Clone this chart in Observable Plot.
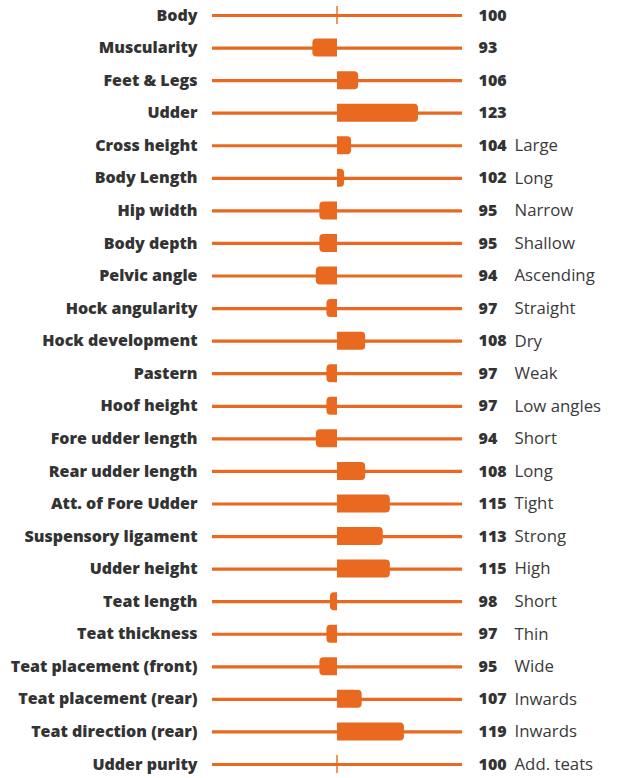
<!DOCTYPE html>
<html>
<head>
<meta charset="utf-8">
<script src="https://cdn.jsdelivr.net/npm/d3@7"></script>
<script src="https://cdn.jsdelivr.net/npm/@observablehq/plot@0.6"></script>
<style>
  html, body { margin: 0; padding: 0; background: #fff; }
  #chart svg { display: block; }
</style>
</head>
<body>
<div id="chart"></div>
<script>
const traits = ["Body", "Muscularity", "Feet & Legs", "Udder", "Cross height", "Body Length", "Hip width", "Body depth", "Pelvic angle", "Hock angularity", "Hock development", "Pastern", "Hoof height", "Fore udder length", "Rear udder length", "Att. of Fore Udder", "Suspensory ligament", "Udder height", "Teat length", "Teat thickness", "Teat placement (front)", "Teat placement (rear)", "Teat direction (rear)", "Udder purity"];
const values = [100, 93, 106, 123, 104, 102, 95, 95, 94, 97, 108, 97, 97, 94, 108, 115, 113, 115, 98, 97, 95, 107, 119, 100];
const descriptors = ["", "", "", "", "Large", "Long", "Narrow", "Shallow", "Ascending", "Straight", "Dry", "Weak", "Low angles", "Short", "Long", "Tight", "Strong", "High", "Short", "Thin", "Wide", "Inwards", "Inwards", "Add. teats"];
const baseline = 100;
const scaleMin = 64.5, scaleMax = 135.5;

const data = traits.map((t, i) => ({trait: t, value: values[i], desc: descriptors[i]}));
const above = data.filter(d => d.value > baseline);
const below = data.filter(d => d.value < baseline);
const orange = "#E8691F";
const ink = "#333333";

const chart = Plot.plot({
  width: 619,
  height: 778,
  marginLeft: 212,
  marginRight: 157,
  marginTop: 0,
  marginBottom: 0,
  style: {fontFamily: "'Open Sans', sans-serif", background: "#fff"},
  x: {domain: [scaleMin, scaleMax], axis: null},
  y: {domain: traits, type: "band", range: [6, 773], round: false, paddingInner: 0.447, paddingOuter: 0, axis: null},
  marks: [
    Plot.ruleY(data, {y: "trait", x1: scaleMin, x2: scaleMax, stroke: orange, strokeWidth: 3.2}),
    Plot.barX(data.filter(d => d.value === baseline), {y: "trait", x1: baseline - 0.2, x2: baseline + 0.2, fill: orange}),
    Plot.barX(above, {y: "trait", x1: baseline, x2: "value", fill: orange, rx2: 4}),
    Plot.barX(below, {y: "trait", x1: "value", x2: baseline, fill: orange, rx1: 4}),
    Plot.text(data, {y: "trait", text: "trait", frameAnchor: "left", textAnchor: "end", dx: -15, fill: ink, fontWeight: 800, fontSize: 16}),
    Plot.text(data, {y: "trait", text: d => String(d.value), frameAnchor: "right", textAnchor: "start", dx: 16, fill: ink, fontWeight: 800, fontSize: 16}),
    Plot.text(data, {y: "trait", text: "desc", frameAnchor: "right", textAnchor: "start", dx: 52, fill: "#3a3a3a", fontWeight: 400, fontSize: 16.8})
  ]
});
document.getElementById("chart").appendChild(chart);
</script>
</body>
</html>
